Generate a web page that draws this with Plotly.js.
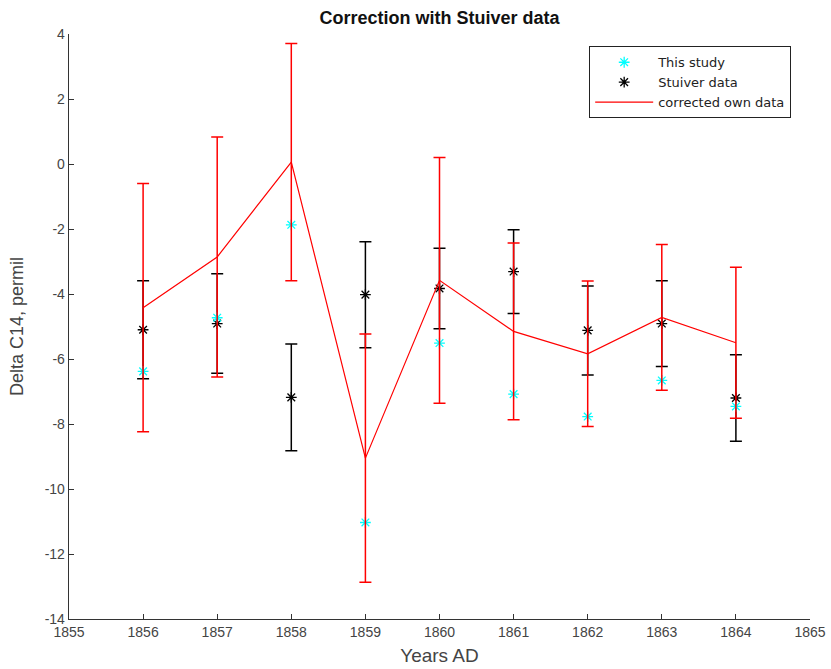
<!DOCTYPE html>
<html>
<head>
<meta charset="utf-8">
<script src="https://cdn.plot.ly/plotly-3.0.1.min.js"></script>
<style>
  html, body { margin: 0; padding: 0; background: #fff; }
  #chart { width: 831px; height: 669px; }
</style>
</head>
<body>
<div id="chart"></div>
<script>
// Data
var years = [1856, 1857, 1858, 1859, 1860, 1861, 1862, 1863, 1864];

var thisStudy = [-6.38, -4.73, -1.87, -11.03, -5.51, -7.08, -7.77, -6.66, -7.46];

var stuiver = [-5.10, -4.91, -7.18, -4.02, -3.83, -3.31, -5.12, -4.91, -7.20];
var stuiverErr = [1.51, 1.53, 1.64, 1.63, 1.24, 1.29, 1.37, 1.32, 1.33];

var corrected = [-4.42, -2.86, 0.06, -9.05, -3.58, -5.15, -5.84, -4.72, -5.50];
var correctedErr = [3.82, 3.69, 3.65, 3.82, 3.78, 2.72, 2.24, 2.24, 2.32];

var xTicks = [1855, 1856, 1857, 1858, 1859, 1860, 1861, 1862, 1863, 1864, 1865];
var yTicks = [-14, -12, -10, -8, -6, -4, -2, 0, 2, 4];

var FONT = 'Liberation Sans, Arial, Helvetica, sans-serif';
var LFONT = 'DejaVu Sans, Liberation Sans, sans-serif';

var traces = [
  {
    x: years, y: stuiver, type: 'scatter', mode: 'markers',
    name: 'Stuiver data', legendrank: 2,
    marker: { symbol: 'asterisk-open', size: 9, color: '#000000',
              line: { color: '#000000', width: 1.3 } },
    error_y: { type: 'data', array: stuiverErr, visible: true,
               color: '#000000', thickness: 1.5, width: 6 }
  },
  {
    x: years, y: thisStudy, type: 'scatter', mode: 'markers',
    name: 'This study', legendrank: 1,
    marker: { symbol: 'asterisk-open', size: 9, color: '#00ffff',
              line: { color: '#00ffff', width: 1.3 } }
  },
  {
    x: years, y: corrected, type: 'scatter', mode: 'lines',
    name: 'corrected own data', legendrank: 3,
    line: { color: '#ff0000', width: 1.2 },
    error_y: { type: 'data', array: correctedErr, visible: true,
               color: '#ff0000', thickness: 1.5, width: 6 }
  }
];

var layout = {
  width: 831, height: 669,
  margin: { l: 69, r: 21, t: 34, b: 50, pad: 0 },
  paper_bgcolor: '#ffffff', plot_bgcolor: '#ffffff',
  font: { family: FONT, size: 14, color: '#333333' },
  title: {
    text: '<b>Correction with Stuiver data</b>',
    font: { family: FONT, size: 18, color: '#111111' },
    x: 0.5, xref: 'paper', y: 0.974, yref: 'container', yanchor: 'middle'
  },
  xaxis: {
    range: [1855, 1865], tickvals: xTicks, ticktext: xTicks.map(String),
    showgrid: false, zeroline: false,
    showline: true, linecolor: '#333333', linewidth: 1.3,
    ticks: 'inside', ticklen: 5, tickcolor: '#333333', tickwidth: 1,
    tickfont: { family: FONT, size: 14, color: '#444444' },
    title: { text: 'Years AD', font: { family: FONT, size: 19, color: '#444444' }, standoff: 9 }
  },
  yaxis: {
    range: [-14, 4], tickvals: yTicks, ticktext: yTicks.map(String),
    showgrid: false, zeroline: false,
    showline: true, linecolor: '#333333', linewidth: 1.3,
    ticks: 'inside', ticklen: 5, tickcolor: '#333333', tickwidth: 1,
    tickfont: { family: FONT, size: 14, color: '#444444' },
    title: { text: 'Delta C14, permil', font: { family: FONT, size: 18, color: '#444444' }, standoff: 16 }
  },
  showlegend: true,
  legend: {
    x: 0.702, y: 0.979, xanchor: 'left', yanchor: 'top',
    bgcolor: '#ffffff', bordercolor: '#222222', borderwidth: 1,
    font: { family: LFONT, size: 13, color: '#222222' },
    tracegroupgap: 0, itemwidth: 58
  }
};

Plotly.newPlot('chart', traces, layout, { staticPlot: true, displayModeBar: false });
</script>
</body>
</html>
